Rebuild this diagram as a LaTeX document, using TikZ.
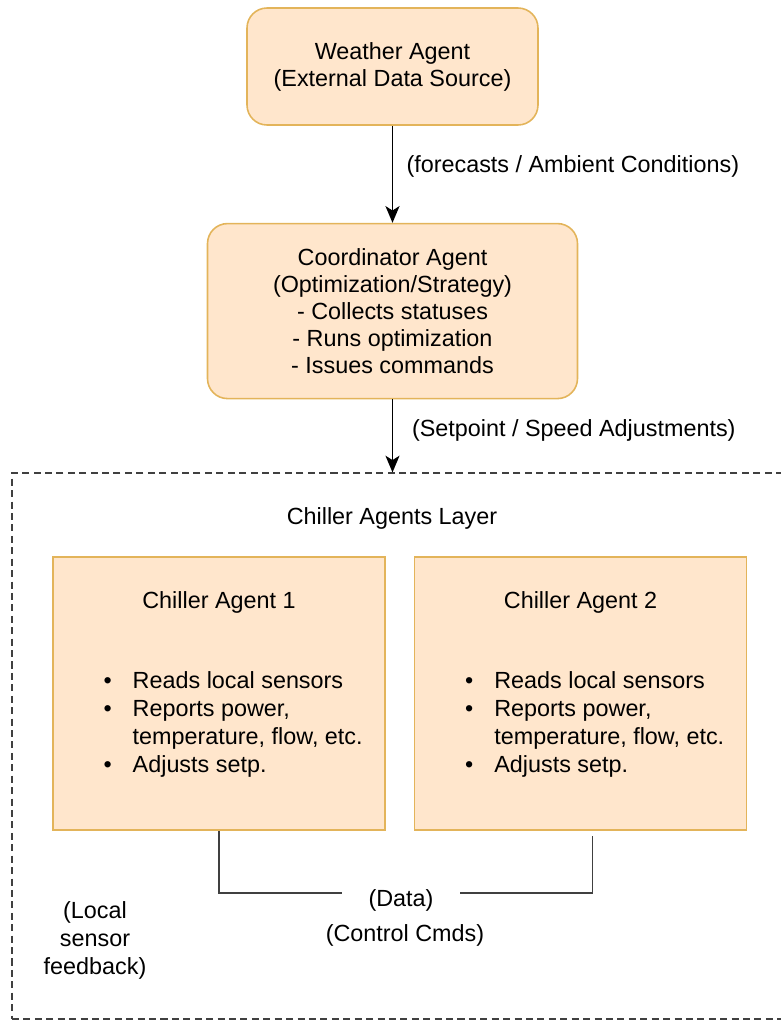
\documentclass[tikz,border=0pt]{standalone}
\usepackage{fontspec}
\setmainfont{Liberation Sans}
\usetikzlibrary{arrows.meta, calc, positioning}
\definecolor{agentfill}{HTML}{FFE6CC}
\definecolor{agentline}{HTML}{E3B45A}
\definecolor{wiregray}{HTML}{404040}
\tikzset
{%
agent/.style={draw=agentline, fill=agentfill, line width=0.9pt, rounded corners=0.4cm, inner sep=0pt},
chiller/.style={draw=agentline, fill=agentfill, line width=0.9pt, minimum width=6.64cm, minimum height=5.46cm, inner sep=0pt},
txt/.style={font=\fontsize{13.3}{15.4}\selectfont, align=center},
tasks/.style={font=\fontsize{13.3}{15.9}\selectfont, inner sep=0pt, anchor=base west},
flow/.style={-{Stealth[length=9.5pt, width=8pt, inset=2.5pt]}, line width=0.8pt},
wire/.style={draw=wiregray, line width=0.9pt},
layer/.style={draw=wiregray, dash pattern=on 4pt off 2.5pt, line width=0.7pt, minimum width=15.5cm, minimum height=10.92cm, inner sep=0pt}
}

\begin{document}
\begin{tikzpicture}
	\useasboundingbox (0,0) rectangle (15.62,-20.46);

	\node[agent, txt, minimum width=5.82cm, minimum height=2.34cm] (weather) at (7.85,-1.33) {Weather Agent\\(External Data Source)};
	\node[agent, txt, minimum width=7.4cm, minimum height=3.5cm, below=1.94cm of weather] (coord) {Coordinator Agent\\(Optimization/Strategy)\\- Collects statuses\\- Runs optimization\\- Issues commands};

	\node[layer] (layer) at (7.99,-14.92) {};
	\node[txt] (layertitle) at (7.84,-10.36) {Chiller Agents Layer};

	\node[chiller] (ch1) at (4.38,-13.87) {};
	\node[chiller, right=0.56cm of ch1] (ch2) {};

	\node[txt] (name1) at ($(ch1.north) + (0,-0.92)$) {Chiller Agent 1};
	\node[tasks] (tasks1) at ($(ch1.north west) + (1.02,-2.64)$)
		{\begin{tabular}[t]{@{}l@{\hspace{0.42cm}}l@{}}
			\textbullet & Reads local sensors\\
			\textbullet & Reports power,\\
			& temperature, flow, etc.\\
			\textbullet & Adjusts setp.
		\end{tabular}};

	\node[txt] (name2) at ($(ch2.north) + (0,-0.92)$) {Chiller Agent 2};
	\node[tasks] (tasks2) at ($(ch2.north west) + (1.02,-2.64)$)
		{\begin{tabular}[t]{@{}l@{\hspace{0.42cm}}l@{}}
			\textbullet & Reads local sensors\\
			\textbullet & Reports power,\\
			& temperature, flow, etc.\\
			\textbullet & Adjusts setp.
		\end{tabular}};

	\node[txt, inner xsep=0.53cm] (data) at (8.02,-18.0) {(Data)};
	\node[txt] (cmds) at (8.1,-18.7) {(Control Cmds)};
	\node[txt, font=\fontsize{13.3}{15.9}\selectfont] (local) at (1.9,-18.8) {(Local\\sensor\\feedback)};

	\draw[flow] (weather.south) -- node[txt, pos=0.42, right=0.15cm] (fclabel) {(forecasts / Ambient Conditions)} (coord.north);
	\draw[flow] (coord.south) -- node[txt, pos=0.43, right=0.26cm] (splabel) {(Setpoint / Speed Adjustments)} (coord.south |- layer.north);
	\draw[wire] (ch1.south) |- ([yshift=0.14cm]data.west);
	\draw[wire] ([yshift=0.14cm]data.east) -| ([xshift=0.24cm, yshift=-0.1cm]ch2.south);
\end{tikzpicture}
\end{document}
